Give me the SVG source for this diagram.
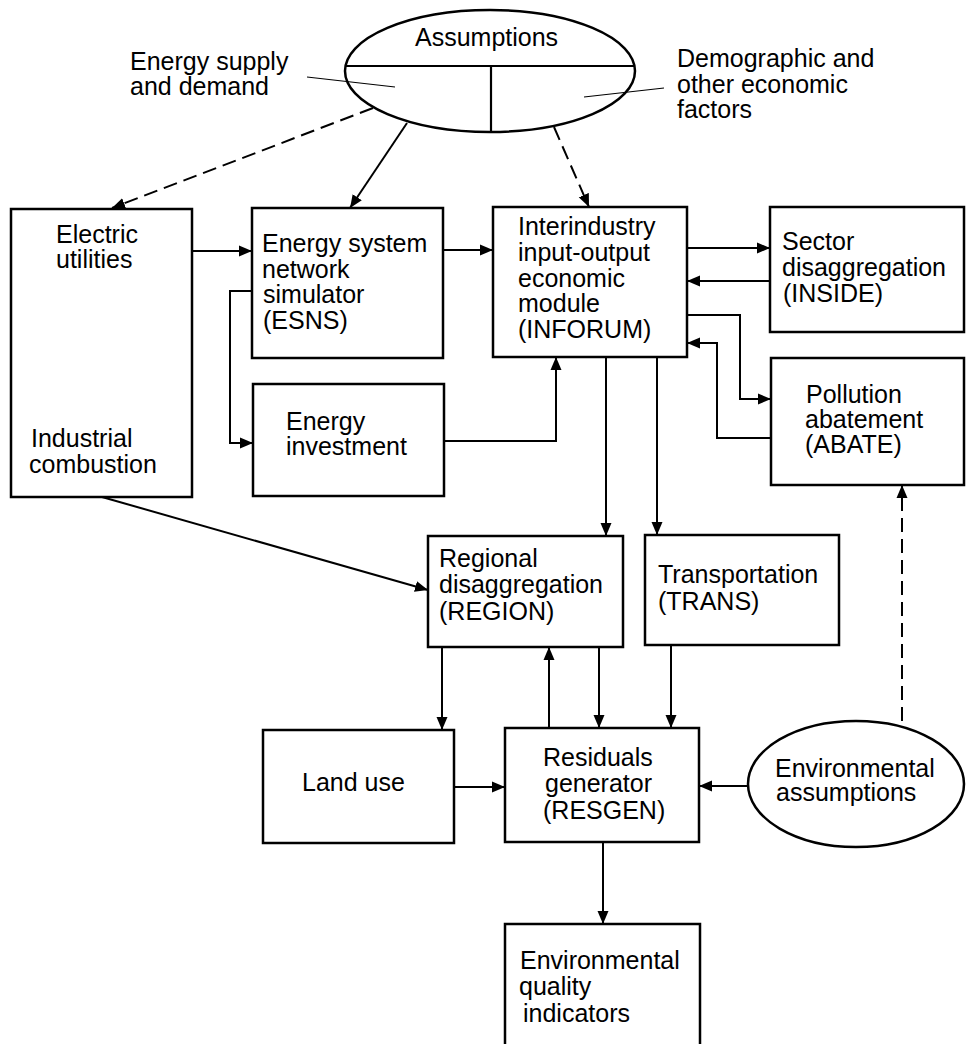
<svg xmlns="http://www.w3.org/2000/svg" width="966" height="1044" viewBox="0 0 966 1044">
<defs>
<marker id="ah" markerUnits="userSpaceOnUse" markerWidth="14" markerHeight="12" refX="13" refY="6" orient="auto">
<path d="M0,0.5 L13,6 L0,11.5 z" fill="#000"/>
</marker>
<style>
text{font-family:"Liberation Sans",Arial,Helvetica,sans-serif;font-size:25px;fill:#000}
.box{fill:#fff;stroke:#000;stroke-width:2.5}
.ell{fill:#fff;stroke:#000;stroke-width:2.5}
.c{fill:none;stroke:#000;stroke-width:2;marker-end:url(#ah)}
.d{stroke-dasharray:14 7}
.lead{fill:none;stroke:#000;stroke-width:1.2}
</style>
</defs>
<rect width="966" height="1044" fill="#fff"/>

<g id="assumptions">
<ellipse class="ell" cx="490" cy="71" rx="145" ry="61"/>
<line x1="346" y1="66" x2="634" y2="66" stroke="#000" stroke-width="2.2"/>
<line x1="491" y1="66" x2="491" y2="132" stroke="#000" stroke-width="2.2"/>
<text x="415" y="46">Assumptions</text>
<line class="lead" x1="307" y1="77" x2="395" y2="87"/>
<line class="lead" x1="584" y1="97" x2="664" y2="88"/>
<text x="130" y="70">Energy supply</text>
<text x="130" y="95">and demand</text>
<text x="677" y="67">Demographic and</text>
<text x="677" y="93">other economic</text>
<text x="677" y="118">factors</text>
</g>

<g id="electric">
<rect class="box" x="11" y="209" width="181" height="288"/>
<text x="56" y="243">Electric</text>
<text x="56" y="268">utilities</text>
<text x="31" y="447">Industrial</text>
<text x="29" y="473">combustion</text>
</g>

<g id="esns">
<rect class="box" x="252" y="208" width="191" height="150"/>
<text x="262" y="252">Energy system</text>
<text x="262" y="278">network</text>
<text x="263" y="303">simulator</text>
<text x="263" y="329">(ESNS)</text>
</g>

<g id="investment">
<rect class="box" x="253" y="384" width="191" height="112"/>
<text x="286" y="430">Energy</text>
<text x="286" y="455">investment</text>
</g>

<g id="inforum">
<rect class="box" x="493" y="207" width="194" height="150"/>
<text x="518" y="235">Interindustry</text>
<text x="518" y="261">input-output</text>
<text x="518" y="287">economic</text>
<text x="518" y="312">module</text>
<text x="518" y="338">(INFORUM)</text>
</g>

<g id="inside">
<rect class="box" x="770" y="207" width="194" height="125"/>
<text x="782" y="250">Sector</text>
<text x="782" y="276">disaggregation</text>
<text x="783" y="302">(INSIDE)</text>
</g>

<g id="abate">
<rect class="box" x="771" y="358" width="193" height="127"/>
<text x="806" y="403">Pollution</text>
<text x="805" y="428">abatement</text>
<text x="805" y="453">(ABATE)</text>
</g>

<g id="region">
<rect class="box" x="428" y="536" width="195" height="111"/>
<text x="439" y="567">Regional</text>
<text x="439" y="593">disaggregation</text>
<text x="439" y="620">(REGION)</text>
</g>

<g id="trans">
<rect class="box" x="645" y="535" width="194" height="110"/>
<text x="658" y="583">Transportation</text>
<text x="658" y="610">(TRANS)</text>
</g>

<g id="landuse">
<rect class="box" x="263" y="730" width="191" height="113"/>
<text x="302" y="791">Land use</text>
</g>

<g id="resgen">
<rect class="box" x="505" y="728" width="194" height="114"/>
<text x="543" y="766">Residuals</text>
<text x="545" y="792">generator</text>
<text x="543" y="819">(RESGEN)</text>
</g>

<g id="envassump">
<ellipse class="ell" cx="856" cy="784" rx="108" ry="63"/>
<text x="775" y="777">Environmental</text>
<text x="776" y="801">assumptions</text>
</g>

<g id="envquality">
<rect class="box" x="505" y="924" width="195" height="140"/>
<text x="520" y="969">Environmental</text>
<text x="519" y="995">quality</text>
<text x="523" y="1022">indicators</text>
</g>

<g id="connectors">
<path class="c d" d="M373,108 L112,208"/>
<path class="c" d="M407,123 L350,208"/>
<path class="c d" d="M554,127 L589,207"/>
<path class="c" d="M192,251 L252,251"/>
<path class="c" d="M443,250 L493,250"/>
<path class="c" d="M252,291 L230,291 L230,443 L253,443"/>
<path class="c" d="M444,441 L556,441 L556,357"/>
<path class="c" d="M687,248 L770,248"/>
<path class="c" d="M770,281 L687,281"/>
<path class="c" d="M687,315 L740,315 L740,399 L771,399"/>
<path class="c" d="M771,438 L717,438 L717,343 L687,343"/>
<path class="c" d="M606,357 L606,536"/>
<path class="c" d="M657,357 L657,535"/>
<path class="c" d="M102,497 L428,590"/>
<path class="c" d="M442,647 L442,730"/>
<path class="c" d="M549,728 L549,647"/>
<path class="c" d="M599,647 L599,728"/>
<path class="c" d="M671,645 L671,728"/>
<path class="c" d="M454,787 L505,787"/>
<path class="c" d="M748,786 L699,786"/>
<path class="c" d="M603,842 L603,924"/>
<path class="c d" d="M902,721 L902,485"/>
</g>
</svg>
